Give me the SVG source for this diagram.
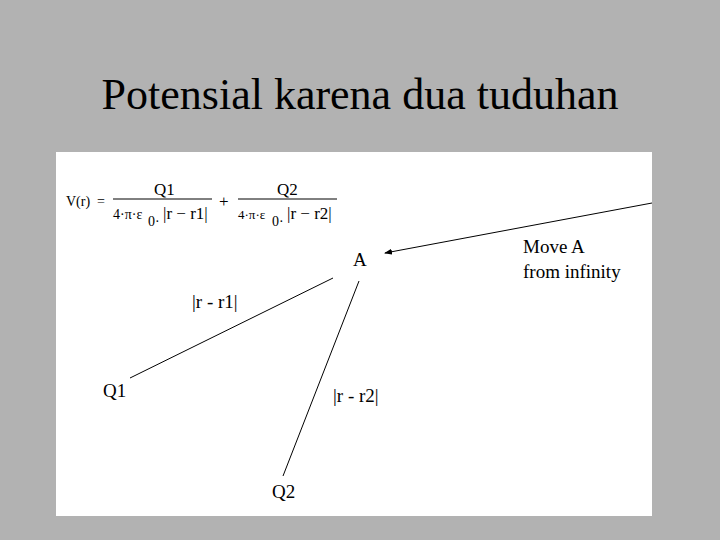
<svg xmlns="http://www.w3.org/2000/svg" width="720" height="540" viewBox="0 0 720 540">
<style>
text{font-family:"Liberation Serif","DejaVu Serif",serif;fill:#000}
.lbl{font-size:19px}
.f{font-size:17px}
.d{font-size:17px}
.s{font-size:14px}
.ln{stroke:#000;stroke-width:1;fill:none}
</style>
<defs>
<marker id="ah" markerWidth="8" markerHeight="6" refX="7" refY="3" orient="auto" markerUnits="userSpaceOnUse">
<path d="M0,0 L8,3 L0,6 Z" fill="#000"/>
</marker>
</defs>
<rect x="0" y="0" width="720" height="540" fill="#b2b2b2"/>
<text x="360" y="109" text-anchor="middle" font-size="44">Potensial karena dua tuduhan</text>
<rect x="56" y="152" width="596" height="364" fill="#fff"/>
<g id="formula">
<text x="66" y="206" class="s">V(r)</text>
<text x="97" y="206" class="s">=</text>
<text x="154" y="195" class="f">Q1</text>
<line x1="113" y1="199" x2="212" y2="199" class="ln"/>
<text x="113" y="219" class="s">4·π·ε</text>
<text x="148" y="226" class="s">0·</text>
<text x="163" y="219" class="d">|r − r1|</text>
<text x="219" y="207" class="f">+</text>
<text x="277" y="195" class="f">Q2</text>
<line x1="238" y1="199" x2="337" y2="199" class="ln"/>
<text x="238" y="219" font-size="13">4·π·ε</text>
<text x="272" y="226" class="s">0·</text>
<text x="287" y="219" class="d">|r − r2|</text>
</g>
<g id="connectors">
<line x1="130" y1="378" x2="333" y2="278" class="ln"/>
<line x1="359" y1="281" x2="283" y2="476" class="ln"/>
<line x1="652" y1="203" x2="385" y2="253" class="ln" marker-end="url(#ah)"/>
</g>
<g id="A"><text x="353" y="266" class="lbl">A</text></g>
<g id="Q1"><text x="103" y="397" class="lbl">Q1</text></g>
<g id="Q2"><text x="272" y="498" class="lbl">Q2</text></g>
<g id="labels">
<text x="192" y="308" class="lbl">|r - r1|</text>
<text x="333" y="402" class="lbl">|r - r2|</text>
<text x="523" y="253" class="lbl">Move A</text>
<text x="523" y="278" class="lbl">from infinity</text>
</g>
</svg>
